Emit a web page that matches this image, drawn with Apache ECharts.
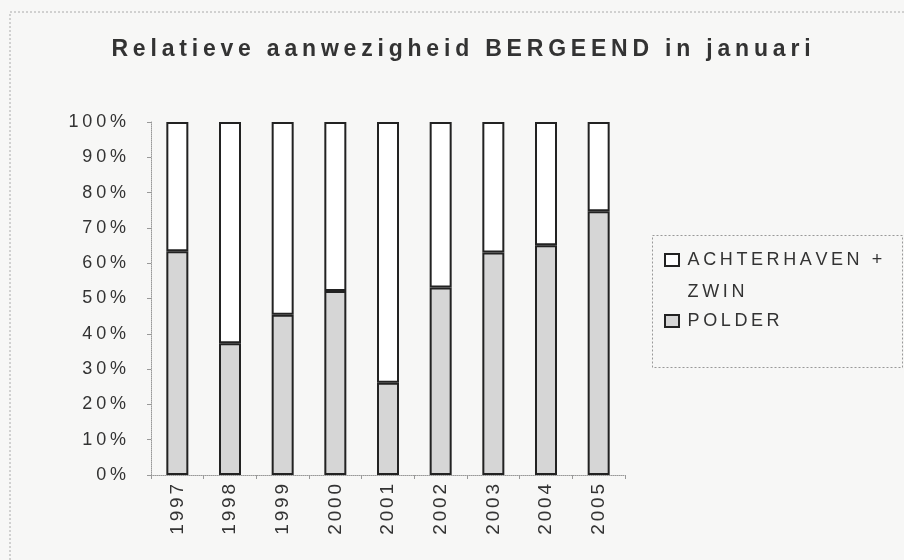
<!DOCTYPE html>
<html>
<head>
<meta charset="utf-8">
<script src="https://cdn.jsdelivr.net/npm/echarts@6/dist/echarts.min.js"></script>
<style>
  html, body { margin: 0; padding: 0; background: #f7f7f6; }
  #chart { width: 904px; height: 560px; }
</style>
</head>
<body>
<div id="chart"></div>
<script>
  // data
  const years = ['1997', '1998', '1999', '2000', '2001', '2002', '2003', '2004', '2005'];
  const polder = [63.4, 37.3, 45.4, 52.1, 26.1, 53.1, 63.0, 65.1, 74.7];
  const achterhaven = [36.6, 62.7, 54.6, 47.9, 73.9, 46.9, 37.0, 34.9, 25.3];
  const yTicks = [0, 10, 20, 30, 40, 50, 60, 70, 80, 90, 100];

  const titleText = 'Relatieve aanwezigheid BERGEEND in januari';
  const nameTop = 'ACHTERHAVEN + ZWIN';
  const nameBottom = 'POLDER';

  const font = 'Liberation Sans, Arial, sans-serif';
  const ink = '#333';

  // excel-like letter spacing: each char becomes its own rich token
  function spaced(str, key) {
    return str.split('').map(function (c) { return '{' + key + '|' + c + '}'; }).join('');
  }

  let chart = echarts.init(document.getElementById('chart'));

  let option = {
    backgroundColor: '#f7f7f6',
    animation: false,
    graphic: [{
      // outer chart frame
      type: 'rect',
      shape: { x: 10, y: 12, width: 1000, height: 1000 },
      style: { fill: 'none', stroke: '#aaa', lineWidth: 1, lineDash: [2, 2] },
      silent: true
    }, {
      // legend frame
      type: 'rect',
      shape: { x: 652.5, y: 235.5, width: 250, height: 132 },
      style: { fill: 'none', stroke: '#999', lineWidth: 1, lineDash: [2, 2] },
      silent: true
    }],
    title: {
      text: spaced(titleText, 't'),
      left: 456,
      top: 33,
      textAlign: 'center',
      textStyle: {
        rich: {
          t: { fontFamily: font, fontSize: 23, fontWeight: 'bold', color: ink, padding: [0, 2.4, 0, 2.4] }
        }
      }
    },
    legend: {
      data: [nameTop, nameBottom],
      orient: 'vertical',
      left: 652,
      top: 219,
      padding: [0, 14, 0, 12],
      itemWidth: 14,
      itemHeight: 12,
      itemGap: 11,
      icon: 'rect',
      formatter: function (name) {
        if (name === nameTop) {
          // blank first line keeps the icon level with the first text line
          return '{l| }\n' + spaced('ACHTERHAVEN +', 'l') + '\n' + spaced('ZWIN', 'l');
        }
        return spaced(name, 'l');
      },
      textStyle: {
        rich: {
          l: { fontFamily: font, fontSize: 18, color: ink, padding: [0, 0, 0, 3.6], lineHeight: 32 }
        }
      }
    },
    grid: {
      left: 151,
      right: 279,
      top: 122,
      bottom: 85
    },
    xAxis: {
      type: 'category',
      data: years,
      boundaryGap: true,
      axisLine: { lineStyle: { color: '#999', type: 'dotted' } },
      axisTick: { show: true, length: 4, lineStyle: { color: '#999' } },
      axisLabel: {
        rotate: 90,
        margin: 9,
        formatter: function (v) { return spaced(v, 'x'); },
        rich: {
          x: { fontFamily: font, fontSize: 19, color: ink, padding: [0, 0, 0, 2.8] }
        }
      }
    },
    yAxis: {
      type: 'value',
      min: 0,
      max: 100,
      interval: 10,
      splitLine: { show: false },
      axisLine: { show: true, lineStyle: { color: '#999', type: 'dotted' } },
      axisTick: { show: true, length: 4, lineStyle: { color: '#999' } },
      axisLabel: {
        margin: 25,
        formatter: function (v) { return yTicks.indexOf(v) >= 0 ? spaced(v + '%', 'y') : ''; },
        rich: {
          y: { fontFamily: font, fontSize: 18, color: ink, padding: [0, 0, 0, 3.8] }
        }
      }
    },
    series: [{
      name: nameBottom,
      type: 'bar',
      stack: 'total',
      barWidth: 22,
      data: polder,
      itemStyle: { color: '#d6d6d6', borderColor: '#222', borderWidth: 2 }
    }, {
      name: nameTop,
      type: 'bar',
      stack: 'total',
      barWidth: 22,
      data: achterhaven,
      itemStyle: { color: '#ffffff', borderColor: '#222', borderWidth: 2 }
    }]
  };

  chart.setOption(option);
</script>
</body>
</html>
